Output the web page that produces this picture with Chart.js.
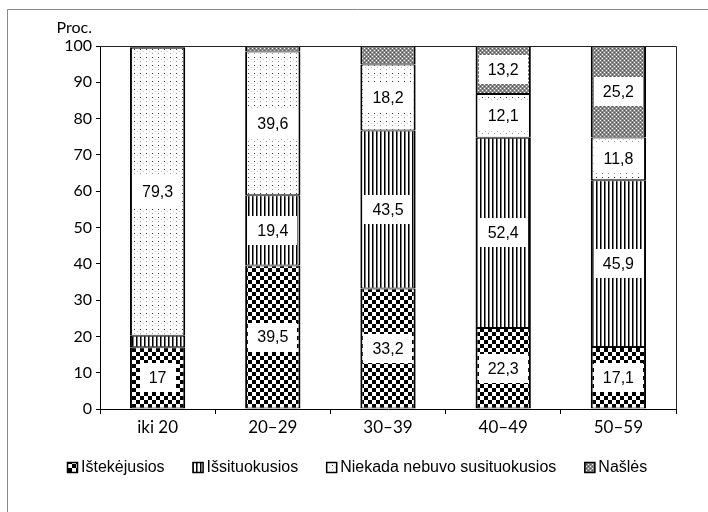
<!DOCTYPE html>
<html>
<head>
<meta charset="utf-8">
<script src="https://cdn.jsdelivr.net/npm/chart.js@4.4.1/dist/chart.umd.min.js"></script>
<style>
  html, body { margin: 0; padding: 0; background: #fff; }
</style>
</head>
<body>
<canvas id="chart" width="708" height="512"></canvas>
<script>
// data (per cent)
const categories = ['iki 20', '20–29', '30–39', '40–49', '50–59'];
const seriesNames = ['Ištekėjusios', 'Išsituokusios', 'Niekada nebuvo susituokusios', 'Našlės'];
const married = [17, 39.5, 33.2, 22.3, 17.1];
const divorced = [3.2, 19.4, 43.5, 52.4, 45.9];
const neverMarried = [79.3, 39.6, 18.2, 12.1, 11.8];
const widowed = [0.5, 1.5, 5.1, 13.2, 25.2];
const yTicks = [0, 10, 20, 30, 40, 50, 60, 70, 80, 90, 100];
const yUnit = 'Proc.';

// small repeating fills, like the old b/w office charts
function makePattern(w, h, draw) {
  const c = document.createElement('canvas');
  c.width = w;
  c.height = h;
  const g = c.getContext('2d');
  g.fillStyle = '#fff';
  g.fillRect(0, 0, w, h);
  draw(g);
  return g.createPattern(c, 'repeat');
}

const checker = makePattern(8, 8, g => {
  g.fillStyle = '#000';
  g.fillRect(0, 0, 4, 4);
  g.fillRect(4, 4, 4, 4);
});
const stripes = makePattern(4, 4, g => {
  g.fillStyle = '#000';
  g.fillRect(0, 0, 1, 4);
  g.fillStyle = '#777';
  g.fillRect(1, 0, 1, 4);
});
const dots = makePattern(6, 8, g => {
  g.fillStyle = '#333';
  g.fillRect(2, 1, 1, 1);
  g.fillStyle = '#999';
  g.fillRect(2, 5, 1, 1);
  g.fillStyle = '#bbb';
  g.fillRect(5, 3, 1, 1);
});
const hatch = makePattern(4, 4, g => {
  g.fillStyle = '#8a8a8a';
  g.fillRect(0, 0, 4, 4);
  g.fillStyle = '#fff';
  g.fillRect(0, 0, 1, 1);
  g.fillRect(2, 2, 1, 1);
  g.fillStyle = '#555';
  g.fillRect(2, 0, 1, 1);
  g.fillRect(0, 2, 1, 1);
});

const fills = [checker, stripes, dots, hatch];
const seriesData = [married, divorced, neverMarried, widowed];

const datasets = seriesNames.map((name, i) => ({
  label: name,
  data: seriesData[i],
  backgroundColor: fills[i],
  borderColor: '#000',
  borderWidth: { left: 2, right: 2, top: 1, bottom: 1 },
  borderSkipped: false,
  barPercentage: 0.48,
  categoryPercentage: 1
}));

// outer frame, plot frame and the "Proc." unit
const framePlugin = {
  id: 'frame',
  beforeDraw(chart) {
    const ctx = chart.ctx;
    ctx.save();
    ctx.strokeStyle = '#888';
    ctx.lineWidth = 1;
    ctx.beginPath();
    ctx.moveTo(7.5, 512);
    ctx.lineTo(7.5, 9.5);
    ctx.lineTo(708, 9.5);
    ctx.stroke();
    ctx.restore();
  },
  afterDatasetsDraw(chart) {
    const ctx = chart.ctx;
    const a = chart.chartArea;
    ctx.save();
    ctx.strokeStyle = '#222';
    ctx.lineWidth = 1;
    ctx.beginPath();
    ctx.moveTo(a.left, Math.round(a.top) + 0.5);
    ctx.lineTo(Math.round(a.right) + 0.5, Math.round(a.top) + 0.5);
    ctx.lineTo(Math.round(a.right) + 0.5, a.bottom);
    ctx.stroke();

    ctx.fillStyle = '#000';
    ctx.font = '16px Lato';
    ctx.textAlign = 'right';
    ctx.textBaseline = 'middle';
    ctx.fillText(yUnit, 92, 27.5);
    ctx.restore();
  }
};

// white boxes with the values, comma as decimal mark
const valueLabels = {
  id: 'valueLabels',
  afterDatasetsDraw(chart) {
    const ctx = chart.ctx;
    ctx.save();
    ctx.font = '16px "Liberation Sans", Arial';
    ctx.textAlign = 'center';
    ctx.textBaseline = 'middle';
    chart.data.datasets.forEach((ds, d) => {
      const meta = chart.getDatasetMeta(d);
      ds.data.forEach((v, i) => {
        if (v < 10) return;
        const el = meta.data[i];
        const cy = (el.y + el.base) / 2;
        const txt = String(v).replace('.', ',');
        const w = ctx.measureText(txt).width + 18;
        ctx.fillStyle = '#fff';
        ctx.fillRect(Math.round(el.x - w / 2), Math.round(cy - 14.5), Math.round(w), 29);
        ctx.fillStyle = '#000';
        ctx.fillText(txt, el.x, cy + 1);
      });
    });
    ctx.restore();
  }
};

// legend row under the axis, small patterned boxes
const legendRow = {
  id: 'legendRow',
  afterDraw(chart) {
    const ctx = chart.ctx;
    const box = 11, gap = 3, spacing = 28;
    ctx.save();
    ctx.font = '16px "Liberation Sans", Arial';
    ctx.textBaseline = 'middle';
    ctx.textAlign = 'left';
    const widths = chart.data.datasets.map(ds => ctx.measureText(ds.label).width);
    let total = spacing * (widths.length - 1);
    widths.forEach(w => { total += box + gap + w; });
    let x = Math.round(357.5 - total / 2);
    const yc = 468;
    chart.data.datasets.forEach((ds, i) => {
      ctx.fillStyle = ds.backgroundColor;
      ctx.fillRect(x, yc - 6, box, box);
      ctx.strokeStyle = '#000';
      ctx.lineWidth = 1.5;
      ctx.strokeRect(x + 0.5, yc - 5.5, box - 1, box - 1);
      ctx.fillStyle = '#000';
      ctx.fillText(ds.label, x + box + gap, yc);
      x += box + gap + widths[i] + spacing;
    });
    ctx.restore();
  }
};

new Chart(document.getElementById('chart').getContext('2d'), {
  type: 'bar',
  data: { labels: categories, datasets: datasets },
  options: {
    responsive: false,
    animation: false,
    devicePixelRatio: 1,
    layout: { padding: { left: 34, right: 32, top: 46, bottom: 63 } },
    plugins: {
      legend: { display: false },
      tooltip: { enabled: false }
    },
    scales: {
      x: {
        stacked: true,
        grid: { drawOnChartArea: false, drawTicks: true, tickLength: 5, color: '#000', offset: true },
        border: { color: '#000', width: 1 },
        ticks: { color: '#000', font: { family: 'Lato', size: 17 }, padding: 3 },
        afterFit: s => { s.height = 40; }
      },
      y: {
        stacked: true,
        min: 0,
        max: 100,
        afterBuildTicks: s => { s.ticks = yTicks.map(v => ({ value: v })); },
        grid: { drawOnChartArea: false, drawTicks: true, tickLength: 4, color: '#000' },
        border: { color: '#000', width: 1 },
        ticks: { color: '#000', font: { family: 'Lato', size: 16 }, padding: 4 },
        afterFit: s => { s.width = 66; }
      }
    }
  },
  plugins: [framePlugin, valueLabels, legendRow]
});
</script>
</body>
</html>
